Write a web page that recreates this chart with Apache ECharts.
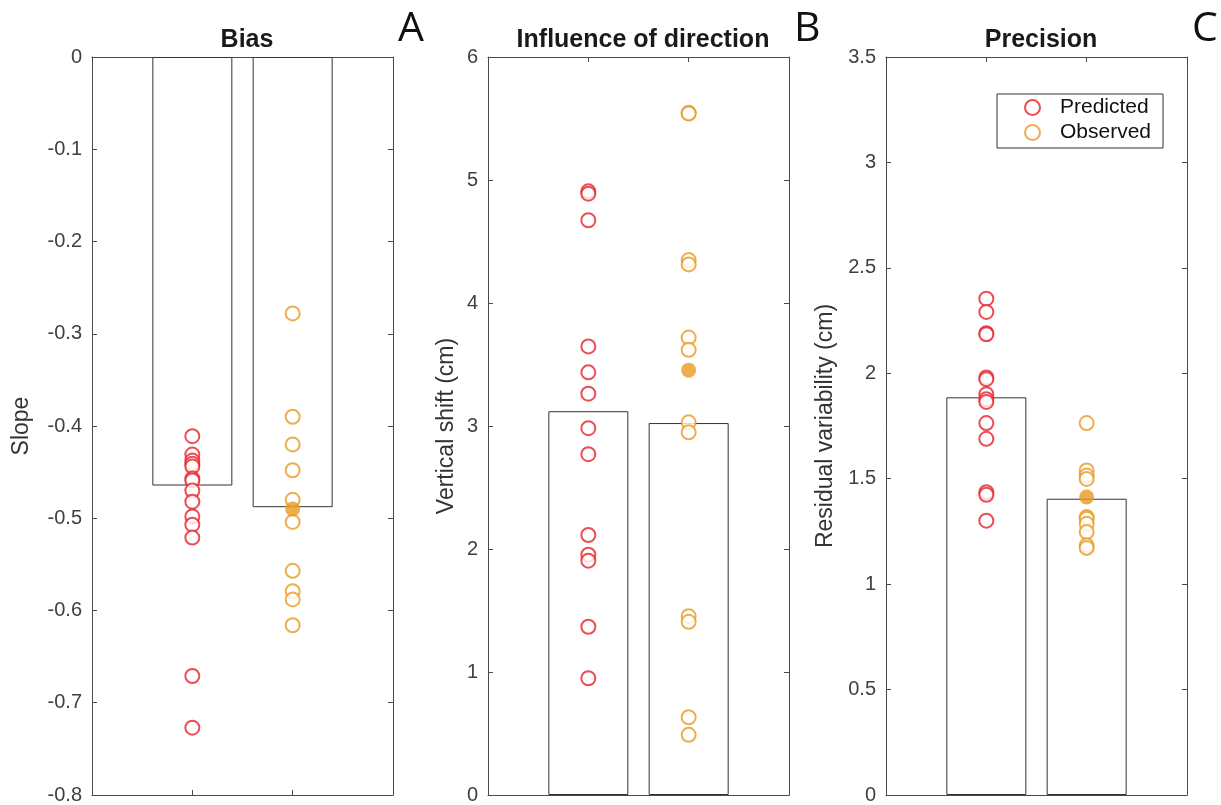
<!DOCTYPE html>
<html>
<head>
<meta charset="utf-8">
<script src="https://cdn.jsdelivr.net/npm/echarts@6/dist/echarts.min.js"></script>
<style>
  html, body { margin: 0; padding: 0; background: #fff; }
  #chart { width: 1221px; height: 805px; }
</style>
</head>
<body>
<div id="chart"></div>
<script>
// x positions (matlab style 0..3, groups at 1 and 2)
const xCats = ['0', '1', '2', '3']

// A - Bias (slope)
const biasBars = [-0.4645, -0.488]
const biasPred = [-0.411, -0.431, -0.4375, -0.441, -0.444, -0.457, -0.459, -0.470, -0.482, -0.498, -0.507, -0.521, -0.671, -0.727]
const biasObs = [-0.278, -0.390, -0.420, -0.448, -0.480, -0.504, -0.557, -0.579, -0.588, -0.616]
const biasObsMean = -0.490

// B - Influence of direction (vertical shift, cm)
const dirBars = [3.12, 3.024]
const dirPred = [4.908, 4.889, 4.673, 3.647, 3.436, 3.263, 2.982, 2.771, 2.114, 1.954, 1.905, 1.368, 0.949]
const dirObs = [5.546, 5.54, 4.349, 4.314, 3.719, 3.619, 3.03, 2.949, 1.454, 1.408, 0.632, 0.489]
const dirObsMean = 3.454

// C - Precision (residual variability, cm)
const precBars = [1.886, 1.405]
const precPred = [2.354, 2.291, 2.190, 2.185, 1.980, 1.972, 1.901, 1.877, 1.864, 1.764, 1.689, 1.436, 1.424, 1.301]
const precObs = [1.764, 1.539, 1.515, 1.499, 1.318, 1.310, 1.286, 1.247, 1.184, 1.172]
const precObsMean = 1.413

const RED = '#E8202A'
const ORANGE = '#E89A22'
const AXIS = '#4a4a4a'
const FONT = 'Liberation Sans, Arial, sans-serif'

const panels = [
  { left: 92, title: 'Bias', letter: 'A', name: 'Slope', nameGap: 59, min: -0.8, max: 0, interval: 0.1, bars: biasBars, pred: biasPred, obs: biasObs, mean: biasObsMean },
  { left: 488, title: 'Influence of direction', letter: 'B', name: 'Vertical shift (cm)', nameGap: 30, min: 0, max: 6, interval: 1, bars: dirBars, pred: dirPred, obs: dirObs, mean: dirObsMean },
  { left: 886, title: 'Precision', letter: 'C', name: 'Residual variability (cm)', nameGap: 49, min: 0, max: 3.5, interval: 0.5, bars: precBars, pred: precPred, obs: precObs, mean: precObsMean }
]

const grid = []
const xAxis = []
const yAxis = []
const series = []
const title = []

panels.forEach((p, i) => {
  grid.push({ left: p.left, top: 57, width: 301, height: 740 })

  const xBase = {
    type: 'category',
    data: xCats,
    boundaryGap: false,
    gridIndex: i,
    axisLine: { show: true, onZero: false, lineStyle: { color: AXIS, width: 1 } },
    axisTick: { inside: true, length: 5, lineStyle: { color: AXIS } },
    axisLabel: { show: false },
    splitLine: { show: false }
  }
  xAxis.push({ ...xBase, position: 'bottom' })
  xAxis.push({ ...xBase, position: 'top' })

  const yBase = {
    type: 'value',
    gridIndex: i,
    min: p.min,
    max: p.max,
    interval: p.interval,
    axisLine: { show: true, onZero: false, lineStyle: { color: AXIS, width: 1 } },
    axisTick: { show: true, inside: true, length: 5, lineStyle: { color: AXIS } },
    splitLine: { show: false }
  }
  yAxis.push({
    ...yBase,
    position: 'left',
    name: p.name,
    nameLocation: 'middle',
    nameGap: p.nameGap,
    nameTextStyle: { fontSize: 23, color: '#333', fontFamily: FONT },
    axisLabel: { fontSize: 20, color: '#404040', fontFamily: FONT, margin: 10 }
  })
  yAxis.push({ ...yBase, position: 'right', axisLabel: { show: false } })

  const xi = i * 2
  const yi = i * 2

  series.push({
    type: 'bar',
    xAxisIndex: xi,
    yAxisIndex: yi,
    barWidth: 80,
    data: [[1, p.bars[0]], [2, p.bars[1]]],
    itemStyle: { color: '#fff', borderColor: '#333', borderWidth: 1 },
    silent: true,
    z: 1
  })
  series.push({
    name: 'Predicted',
    type: 'scatter',
    xAxisIndex: xi,
    yAxisIndex: yi,
    symbol: 'emptyCircle',
    symbolSize: 14,
    itemStyle: { color: RED, borderColor: RED, borderWidth: 1.5 },
    data: p.pred.map(v => [1, v]),
    z: 3
  })
  series.push({
    name: 'Observed',
    type: 'scatter',
    xAxisIndex: xi,
    yAxisIndex: yi,
    symbol: 'emptyCircle',
    symbolSize: 14,
    itemStyle: { color: ORANGE, borderColor: ORANGE, borderWidth: 1.5 },
    data: p.obs.map(v => [2, v]),
    z: 3
  })
  series.push({
    name: 'Observed mean',
    type: 'scatter',
    xAxisIndex: xi,
    yAxisIndex: yi,
    symbol: 'circle',
    symbolSize: 15,
    itemStyle: { color: ORANGE },
    data: [[2, p.mean]],
    z: 4
  })

  title.push({
    text: p.title,
    left: p.left + 150,
    top: 23,
    textAlign: 'center',
    textStyle: { fontSize: 25, fontWeight: 'bold', color: '#1a1a1a', fontFamily: FONT }
  })
  title.push({
    text: p.letter,
    left: p.left + 301,
    top: 4,
    textStyle: { fontSize: 41, fontWeight: 'normal', color: '#111', fontFamily: 'Open Sans, sans-serif' }
  })
})

const myChart = echarts.init(document.getElementById('chart'))
myChart.setOption({
  animation: false,
  backgroundColor: '#fff',
  title,
  grid,
  xAxis,
  yAxis,
  legend: {
    data: ['Predicted', 'Observed'],
    orient: 'vertical',
    left: 997,
    top: 94,
    itemWidth: 15,
    itemHeight: 15,
    itemGap: 4,
    padding: [3, 12, 5, 27],
    borderColor: '#333',
    borderWidth: 1,
    textStyle: { fontSize: 21, color: '#111', fontFamily: FONT, padding: [0, 0, 0, 15] }
  },
  series
})
</script>
</body>
</html>
